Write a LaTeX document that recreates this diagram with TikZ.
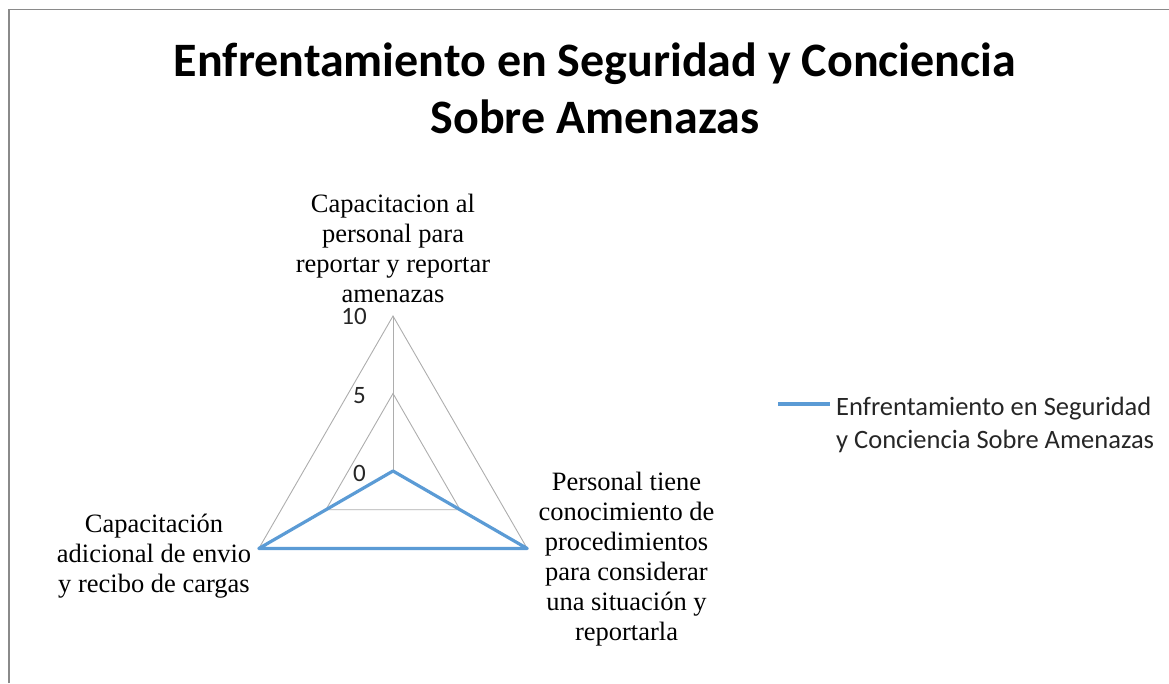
\documentclass[tikz,border=0pt]{standalone}
\usepackage{fontspec}
\setmainfont{Liberation Serif}
\newfontfamily\calibri{Carlito}
\definecolor{seriesblue}{HTML}{5B9BD5}
\definecolor{gridgray}{HTML}{ADADAD}
\definecolor{framegray}{HTML}{8A8A8A}
\begin{document}
\begin{tikzpicture}[x=1pt,y=-1pt,
  frame/.style={draw=framegray, line width=1.2pt},
  grid/.style={draw=gridgray, line width=0.9pt},
  series/.style={draw=seriesblue, line width=3.2pt, line join=round},
  catlabel/.style={font=\fontsize{26.5}{30}\selectfont, align=center, inner sep=0pt, anchor=base},
  ticklabel/.style={font=\calibri\fontsize{25}{30}\selectfont, anchor=base east, inner sep=0pt, text=black!85},
  titlelabel/.style={font=\calibri\bfseries\fontsize{48}{57}\selectfont, align=center, inner sep=0pt, anchor=base},
  legendlabel/.style={font=\calibri\fontsize{26.5}{33}\selectfont, align=left, inner sep=0pt, anchor=base west, text=black!85}]
\useasboundingbox (0,0) rectangle (1169,683);
% chart frame
\coordinate (fbl) at (9,683);
\coordinate (ftl) at (9,9.5);
\coordinate (ftr) at (1169,9.5);
\draw[frame] (fbl) -- (ftl) -- (ftr);
% radar geometry
\coordinate (c) at (393,471);
\coordinate (t10) at (393,316);
\coordinate (l10) at (258.8,548.5);
\coordinate (r10) at (527.2,548.5);
\coordinate (t5) at (393,393.5);
\coordinate (l5) at (325.9,509.75);
\coordinate (r5) at (460.1,509.75);
\draw[grid] (t10) -- (l10) -- (r10) -- cycle;
\draw[grid] (t5) -- (l5) -- (r5) -- cycle;
\draw[grid] (c) -- (t10);
\draw[grid] (c) -- (l10);
\draw[grid] (c) -- (r10);
% series
\draw[series] (c) -- (l10) -- (r10) -- cycle;
% tick labels
\node[ticklabel] (tick10) at (367,324) {10};
\node[ticklabel] (tick5) at (366,403) {5};
\node[ticklabel] (tick0) at (366,481) {0};
% category labels
\node[catlabel] (cattop) at (393,302) {Capacitacion al\\personal para\\reportar y reportar\\amenazas};
\node[catlabel] (catleft) at (154,592) {Capacitación\\adicional de envio\\y recibo de cargas};
\node[catlabel] (catright) at (626.5,640) {Personal tiene\\conocimiento de\\procedimientos\\para considerar\\una situación y\\reportarla};
% title
\node[titlelabel] (title) at (595,133) {Enfrentamiento en Seguridad y Conciencia\\Sobre Amenazas};
% legend
\coordinate (lega) at (778,404);
\coordinate (legb) at (830,404);
\draw[series] (lega) -- (legb);
\node[legendlabel] (legtext) at (836,448) {Enfrentamiento en Seguridad\\y Conciencia Sobre Amenazas};
\end{tikzpicture}
\end{document}
